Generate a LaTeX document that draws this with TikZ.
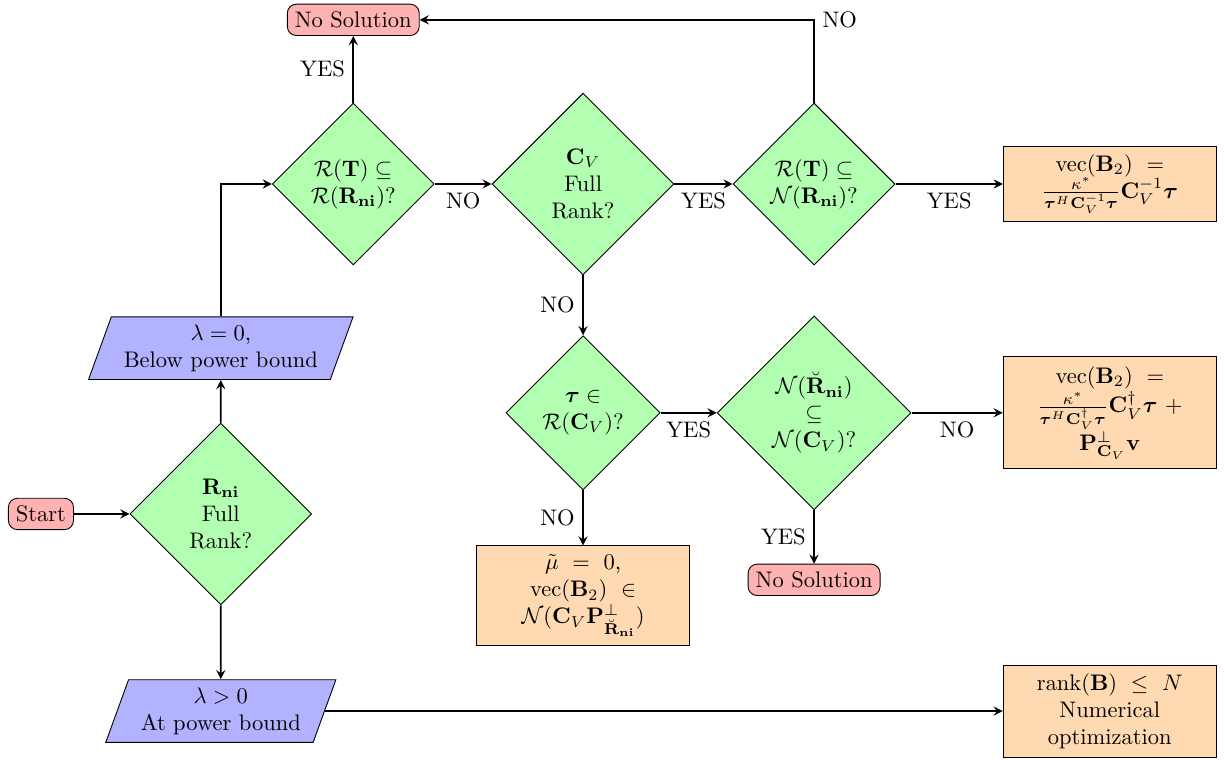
\documentclass[tikz,border=0pt]{standalone}
\usepackage{amsmath,amssymb}
\usetikzlibrary{shapes.geometric}
\tikzset{
  startstop/.style={rectangle, rounded corners, draw, fill=red!30},
  io/.style={trapezium, trapezium left angle=70, trapezium right angle=110,
    draw, fill=blue!30, align=center, minimum height=0.98cm},
  decision/.style={diamond, aspect=1, draw, fill=green!30, inner sep=0pt, align=center},
  process/.style={rectangle, draw, fill=orange!30, align=center, minimum width=3.33cm},
  arrow/.style={thick,->,>=stealth}
}
\begin{document}
\begin{tikzpicture}
      \useasboundingbox (0,0) rectangle (19.14,-11.86);
      \node[startstop] (start) at (0.64,-8.03) {Start};
      \node[decision, minimum size=2.84cm] (rni) at (3.45,-8.03)
        {$\mathbf{R}_\mathbf{ni}$\\Full\\Rank?};
      \node[io, inner xsep=5pt] (below) at (3.45,-5.44) {$\lambda=0$,\\Below power bound};
      \node[io, inner xsep=5pt] (atbound) at (3.45,-11.11) {$\lambda>0$\\At power bound};
      \node[decision, minimum size=2.53cm] (rangeT) at (5.52,-2.875)
        {$\mathcal{R}(\mathbf{T})\subseteq$\\$\mathcal{R}(\mathbf{R}_\mathbf{ni})$?};
      \node[startstop] (nosol1) at (5.52,-0.31) {No Solution};
      \node[decision, minimum size=2.84cm] (cv) at (9.11,-2.875)
        {$\mathbf{C}_V$\\Full\\Rank?};
      \node[decision, minimum size=2.53cm] (nullT) at (12.72,-2.875)
        {$\mathcal{R}(\mathbf{T})\subseteq$\\$\mathcal{N}(\mathbf{R}_\mathbf{ni})$?};
      \node[process] (inv) at (17.34,-2.875)
        {$\mathrm{vec}(\mathbf{B}_2)\ =$\\
         $\frac{\kappa^*}{\boldsymbol{\tau}^H\mathbf{C}_V^{-1}\boldsymbol{\tau}}\mathbf{C}_V^{-1}\boldsymbol{\tau}$};
      \node[decision, minimum size=2.41cm] (tau) at (9.11,-6.45)
        {$\boldsymbol{\tau}\in$\\$\mathcal{R}(\mathbf{C}_V)$?};
      \node[decision, minimum size=3.03cm] (nullR) at (12.72,-6.45)
        {$\mathcal{N}(\breve{\mathbf{R}}_\mathbf{ni})$\\$\subseteq$\\$\mathcal{N}(\mathbf{C}_V)$?};
      \node[process, minimum height=1.75cm] (pinv) at (17.34,-6.45)
        {$\mathrm{vec}(\mathbf{B}_2)\ =$\\
         $\frac{\kappa^*}{\boldsymbol{\tau}^H\mathbf{C}_V^\dagger\boldsymbol{\tau}}\mathbf{C}_V^\dagger\boldsymbol{\tau}\ +$\\
         $\mathbf{P}^\perp_{\mathbf{C}_V}\mathbf{v}$};
      \node[process, minimum height=1.56cm] (zero) at (9.11,-9.31)
        {$\tilde{\mu}\ =\ 0$,\\
         $\mathrm{vec}(\mathbf{B}_2)\ \in$\\
         $\mathcal{N}(\mathbf{C}_V\mathbf{P}^\perp_{\breve{\mathbf{R}}_\mathbf{ni}})$};
      \node[startstop] (nosol2) at (12.72,-9.06) {No Solution};
      \node[process, minimum height=1.44cm] (numopt) at (17.34,-11.11)
        {$\mathrm{rank}(\mathbf{B})\ \le\ N$\\Numerical\\optimization};
      \begin{scope}[arrow]
        \draw (start) to (rni);
        \draw (rni) to (below);
        \draw (rni) to (atbound);
        \draw (below) |- (rangeT);
        \draw (atbound) to (numopt);
        \draw (rangeT) to node[left] {YES} (nosol1);
        \draw (rangeT) to node[below] {NO} (cv);
        \draw (cv) to node[below] {YES} (nullT);
        \draw (nullT) |- node[right] {NO} (nosol1);
        \draw (nullT) to node[below] {YES} (inv);
        \draw (cv) to node[left] {NO} (tau);
        \draw (tau) to node[below] {YES} (nullR);
        \draw (tau) to node[left] {NO} (zero);
        \draw (nullR) to node[below] {NO} (pinv);
        \draw (nullR) to node[left] {YES} (nosol2);
      \end{scope}
    \end{tikzpicture}
\end{document}
